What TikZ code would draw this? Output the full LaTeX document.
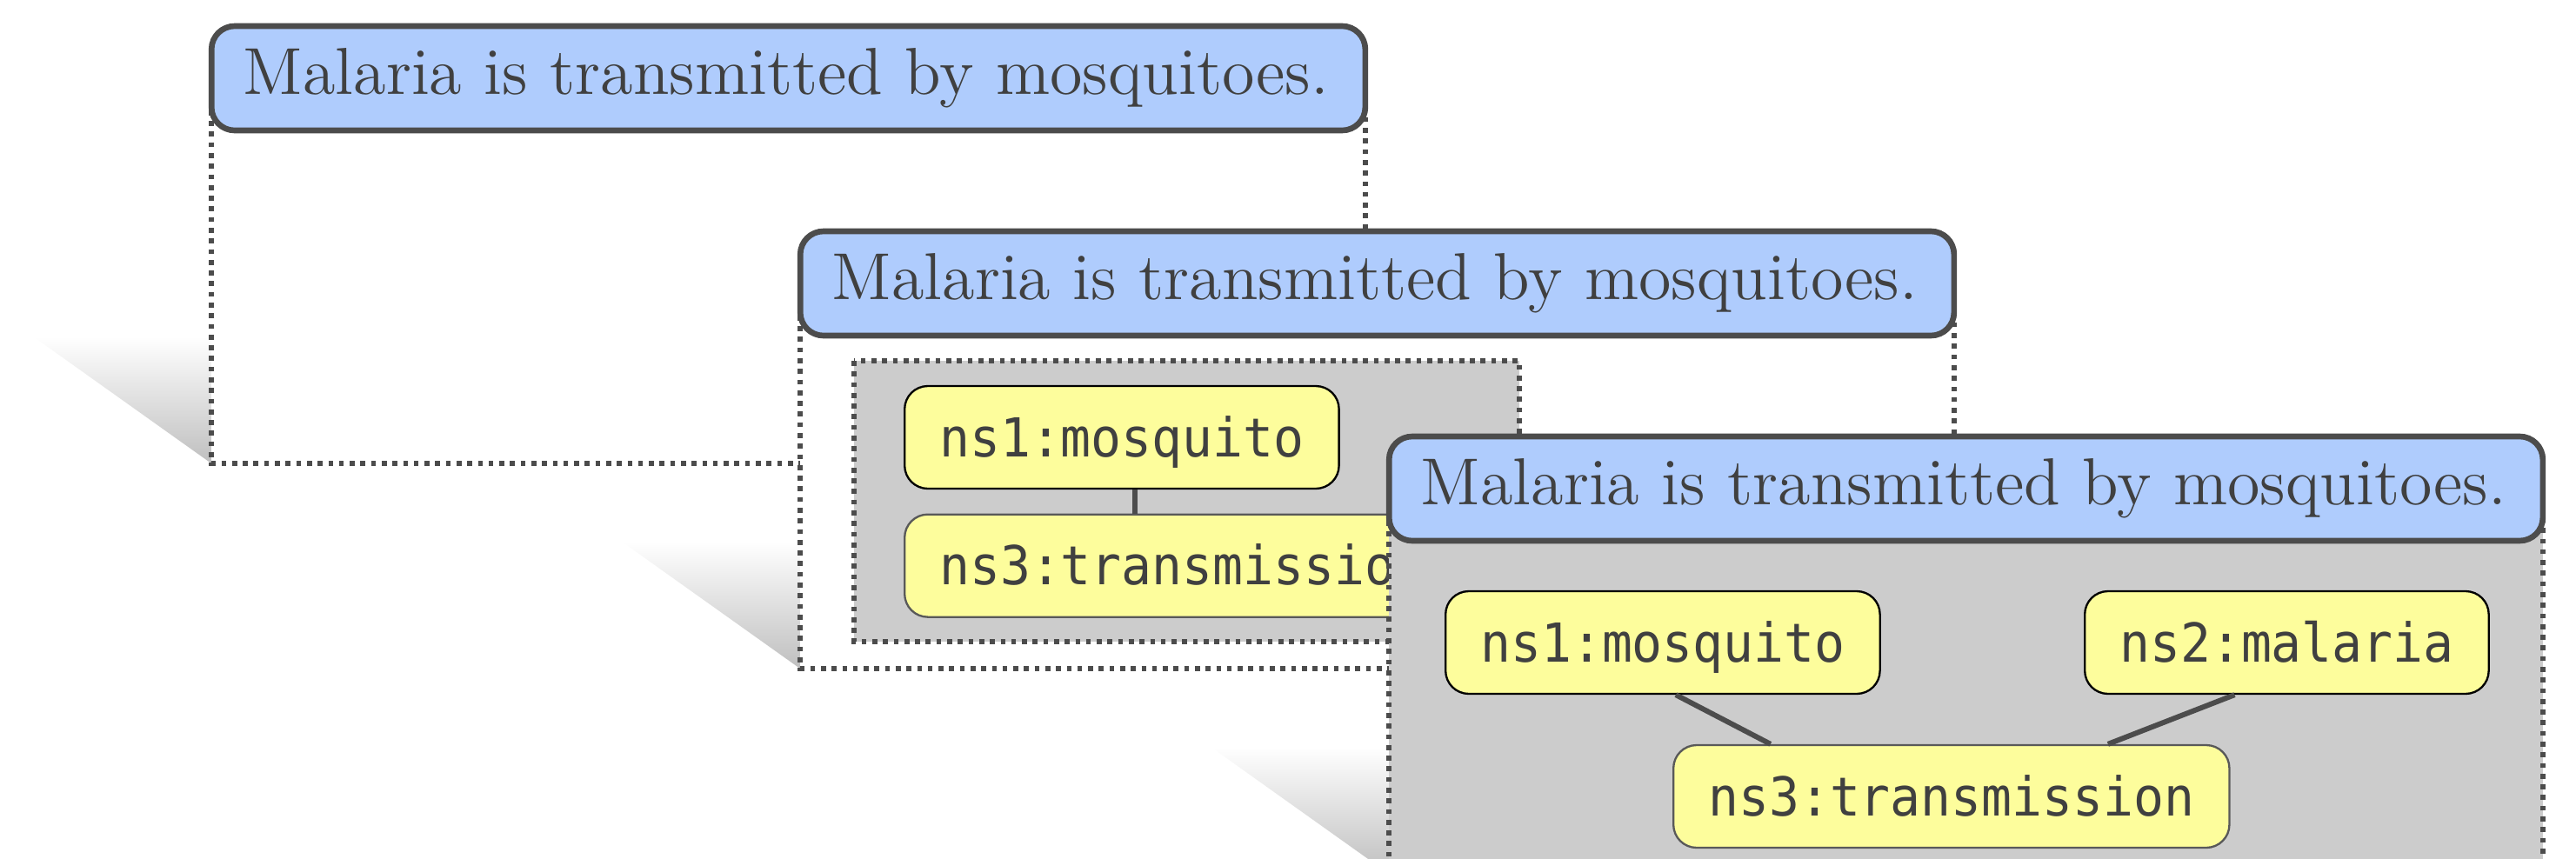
\documentclass[tikz,border=0pt]{standalone}
\usepackage{fontspec}
\newfontfamily\nsfont[FakeStretch=0.94]{DejaVu Sans Mono}
\usetikzlibrary{shapes}
\definecolor{hdrblue}{RGB}{175,204,253}
\definecolor{termyellow}{RGB}{253,253,156}
\definecolor{txtgray}{RGB}{64,64,64}
\definecolor{boxgray}{RGB}{204,204,204}

\begin{document}
\begin{tikzpicture}[
  sentence/.style={draw=black!70,line width=1pt,fill=hdrblue,rounded corners=4bp,minimum height=18bp,inner xsep=5.5bp,inner ysep=0pt,text width=188bp,align=left,text=txtgray,font=\fontsize{11.5}{13}\selectfont},
  frame/.style={draw=black!70,line width=0.85pt,dash pattern=on 0.85pt off 1pt},
  term/.style={draw=black,line width=0.35pt,fill=termyellow,rounded corners=4bp,minimum height=17.7bp,inner xsep=6bp,inner ysep=0pt,text height=8.8bp,text depth=2.2bp,text=txtgray,font=\nsfont\fontsize{9.3}{11}\selectfont,anchor=west},
  relation/.style={draw=black!70,line width=0.9pt},
  fade/.style={top color=white,bottom color=black!25}
]
\clip (0bp,0bp) rectangle (444.3bp,-148.2bp);

% first step: the sentence alone
\shade[fade] (5.7bp,-58.05bp) -- (36.45bp,-58.05bp) -- (36.45bp,-79.95bp) -- cycle;
\draw[frame,fill=white] (36.45bp,-13.5bp) rectangle (235.5bp,-79.95bp);
\node (S1) at (135.98bp,-13.5bp)[sentence] {Malaria is transmitted by mosquitoes.};

% second step: a first small graph
\shade[fade] (107.25bp,-93.45bp) -- (138bp,-93.45bp) -- (138bp,-115.35bp) -- cycle;
\draw[frame,fill=white] (138bp,-48.9bp) rectangle (337.05bp,-115.35bp);
\draw[frame,fill=boxgray] (147.3bp,-62.25bp) rectangle (262.05bp,-110.7bp);
\node (M2) at (155.85bp,-75.45bp)[term] {ns1:mosquito};
\node (T2) at (155.85bp,-97.6bp)[term,draw=black!65] {ns3:transmission};
\draw[relation] ([xshift=2.3bp]M2.south) -- ([xshift=2.3bp]M2.south |- T2.north);
\node (S2) at (237.53bp,-48.9bp)[sentence] {Malaria is transmitted by mosquitoes.};

% third step: the full graph
\shade[fade] (208.8bp,-128.85bp) -- (239.55bp,-128.85bp) -- (239.55bp,-150.75bp) -- cycle;
\draw[frame,fill=boxgray] (239.55bp,-84.3bp) rectangle (438.6bp,-160bp);
\node (S3) at (339.08bp,-84.3bp)[sentence] {Malaria is transmitted by mosquitoes.};
\node (M3) at (249.15bp,-110.85bp)[term] {ns1:mosquito};
\node (A3) at (359.4bp,-110.85bp)[term] {ns2:malaria};
\node (T3) at (288.45bp,-137.4bp)[term,draw=black!65] {ns3:transmission};
\draw[relation] ([xshift=2.25bp]M3.south) -- ([xshift=-31.2bp]T3.north);
\draw[relation] ([xshift=-9bp]A3.south) -- ([xshift=27bp]T3.north);
\end{tikzpicture}
\end{document}
